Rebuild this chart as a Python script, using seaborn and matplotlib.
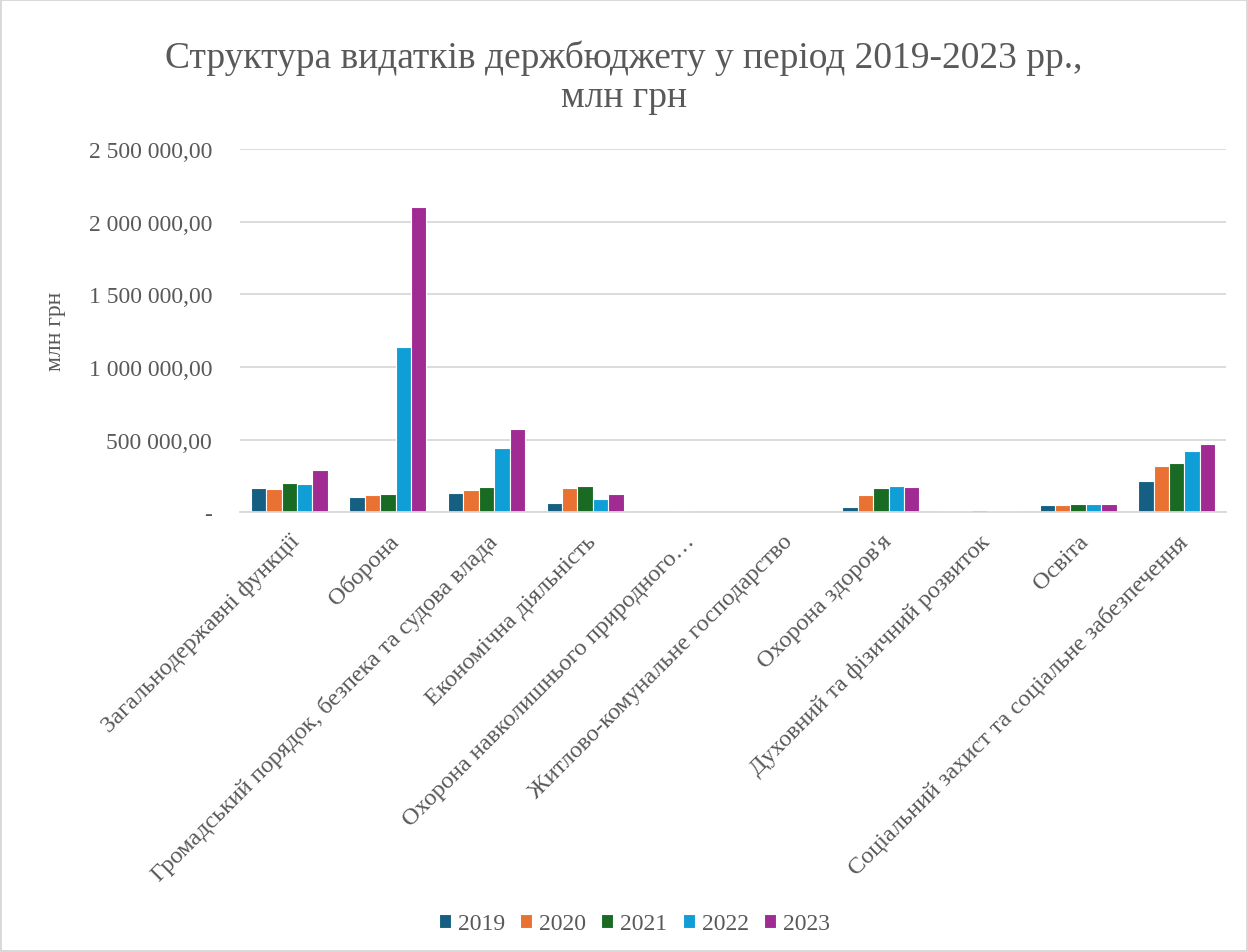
import matplotlib
matplotlib.use("Agg")
import matplotlib.pyplot as plt
import numpy as np
import pandas as pd
import seaborn as sns
from matplotlib.ticker import FuncFormatter, MultipleLocator

categories = [
    "Загальнодержавні функції",
    "Оборона",
    "Громадський порядок, безпека та судова влада",
    "Економічна діяльність",
    "Охорона навколишнього природного…",
    "Житлово-комунальне господарство",
    "Охорона здоров'я",
    "Духовний та фізичний розвиток",
    "Освіта",
    "Соціальний захист та соціальне забезпечення",
]
years = ["2019", "2020", "2021", "2022", "2023"]

values_2019 = [167000, 104000, 137000, 67000, 5000, 1500, 35000, 8000, 49000, 218000]
values_2020 = [162000, 118000, 155000, 167000, 6000, 1500, 120000, 8000, 49000, 322000]
values_2021 = [204000, 125000, 174000, 180000, 7000, 1500, 167000, 14000, 58000, 340000]
values_2022 = [199000, 1140000, 444000, 93000, 6000, 2000, 180000, 8000, 56000, 426000]
values_2023 = [294000, 2100000, 576000, 130000, 5000, 3000, 176000, 9000, 56000, 470000]

colors = ["#156082", "#E97132", "#196B24", "#0F9ED5", "#A02B93"]

series = [values_2019, values_2020, values_2021, values_2022, values_2023]
rows = []
for year, vals in zip(years, series):
    for cat, v in zip(categories, vals):
        rows.append({"category": cat, "year": year, "value": v})
df = pd.DataFrame(rows)

sns.set_style("white")
plt.rcParams["font.family"] = ["Liberation Serif", "DejaVu Serif"]

text_color = "#595959"

fig = plt.figure(figsize=(12.48, 9.53), dpi=100)
fig.patch.set_edgecolor("#d9d9d9")
fig.patch.set_linewidth(1.5)
ax = fig.add_axes([0.1923, 0.4612, 0.7901, 0.3814])

sns.barplot(
    data=df, x="category", y="value", hue="year", order=categories, hue_order=years,
    palette=colors, saturation=1, width=0.78, edgecolor="white", linewidth=0.8,
    ax=ax, legend=True,
)

ax.set_ylim(0, 2500000)
ax.yaxis.set_major_locator(MultipleLocator(500000))


def fmt(v, pos):
    if v == 0:
        return "-"
    return f"{v:,.2f}".replace(",", " ").replace(".", ",")


ax.yaxis.set_major_formatter(FuncFormatter(fmt))
ax.grid(axis="y", color="#d9d9d9", linewidth=1.3)
ax.set_axisbelow(True)
for s in ["top", "right", "left"]:
    ax.spines[s].set_visible(False)
ax.spines["bottom"].set_color("#d9d9d9")
ax.spines["bottom"].set_linewidth(1.3)

ax.tick_params(axis="y", length=0, labelsize=17, labelcolor=text_color, pad=20)
ax.tick_params(axis="x", length=0, labelsize=17.5, labelcolor=text_color, pad=13)
plt.setp(ax.get_xticklabels(), rotation=45, ha="right", rotation_mode="anchor")

ax.set_xlabel("")
ax.set_ylabel("млн грн", fontsize=17, color=text_color, labelpad=16)

fig.suptitle(
    "Структура видатків держбюджету у період 2019-2023 рр.,\nмлн грн",
    fontsize=27, color=text_color, y=0.958, linespacing=1.2,
)

ax.legend(
    loc="center", bbox_to_anchor=(0.40, -1.132), ncol=5, frameon=False,
    fontsize=17, handlelength=0.5, handleheight=0.5, handletextpad=0.3, columnspacing=0.65,
    labelcolor=text_color,
)

fig.savefig("out.png", dpi=100)
